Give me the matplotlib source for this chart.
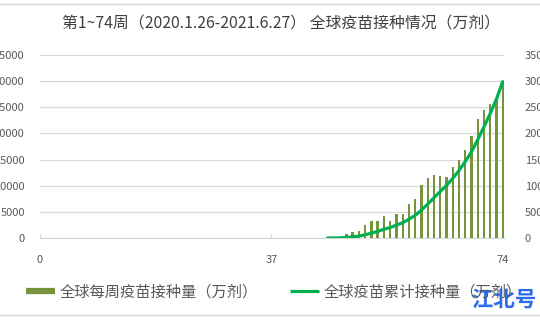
import matplotlib
matplotlib.use("Agg")
import matplotlib.pyplot as plt
from matplotlib.lines import Line2D
import matplotlib.patheffects as pe

plt.rcParams['font.family'] = ['Noto Sans CJK SC', 'DejaVu Sans']

# ---- data ----
title = "第1~74周（2020.1.26-2021.6.27） 全球疫苗接种情况（万剂）"
weeks = list(range(46, 75))
weekly = [10, 80, 250, 820, 1070, 1400, 2540, 3180, 3180, 4270, 3180, 4650, 4650,
          6560, 7460, 10140, 11400, 12050, 11920, 11670, 13500, 14980, 16890,
          19440, 22770, 24540, 25600, 26400, 29800]
cumulative = [0, 100, 300, 1200, 2200, 3600, 6200, 9400, 12500, 16800, 20000,
              24600, 29300, 35800, 43300, 53400, 64800, 76900, 88800, 100500,
              114000, 129000, 146000, 165000, 188000, 213000, 238000, 266000, 299000]
x_ticks = [0, 37, 74]
left_ticks = [0, 5000, 10000, 15000, 20000, 25000, 30000, 35000]
right_ticks = [0, 50000, 100000, 150000, 200000, 250000, 300000, 350000]
label_weekly = "全球每周疫苗接种量（万剂）"
label_cum = "全球疫苗累计接种量（万剂）"
watermark = "江北号"

bar_color = "#77933C"
line_color = "#00B050"
text_color = "#595959"
grid_color = "#D9D9D9"

W, H = 540, 320
fig = plt.figure(figsize=(W / 100, H / 100), dpi=100)
fig.patch.set_facecolor("white")

x0, x1 = 40, 504
y_top, y_bot = 55, 238
ax = fig.add_axes([x0 / W, 1 - y_bot / H, (x1 - x0) / W, (y_bot - y_top) / H])
ax2 = ax.twinx()

ax.bar(weeks, weekly, width=0.38, color=bar_color, zorder=3)
ax2.plot(weeks, cumulative, color=line_color, lw=2.3, solid_capstyle="round", zorder=4)

ax.set_xlim(0, 74.2)
ax.set_ylim(0, 35000)
ax2.set_ylim(0, 350000)
ax.set_xticks(x_ticks)
ax.set_yticks(left_ticks)
ax2.set_yticks(right_ticks)
ax.set_yticklabels([str(v) for v in left_ticks])
ax2.set_yticklabels([str(v) for v in right_ticks])

ax.grid(axis="y", color=grid_color, lw=0.9, zorder=0)
ax.set_axisbelow(True)
for a in (ax, ax2):
    for s in a.spines.values():
        s.set_visible(False)
ax.spines["bottom"].set_visible(True)
ax.spines["bottom"].set_color(grid_color)
ax.spines["bottom"].set_linewidth(0.9)

ax.tick_params(axis="x", direction="in", length=3, color=grid_color,
               labelsize=8, labelcolor=text_color, pad=12)
ax.tick_params(axis="y", length=0, labelsize=8, labelcolor=text_color, pad=11)
ax2.tick_params(axis="y", length=0, labelsize=8, labelcolor=text_color, pad=15)

fig.text(281 / W, 1 - 24 / H, title, ha="center", va="center",
         fontsize=11.4, color="#404040")

handles = [Line2D([0], [0], color=bar_color, lw=4.5, solid_capstyle="butt"),
           Line2D([0], [0], color=line_color, lw=2.3, solid_capstyle="butt")]
fig.legend(handles, [label_weekly, label_cum], loc="center",
           bbox_to_anchor=(274 / W, 1 - 292 / H), ncol=2, frameon=False,
           fontsize=11, labelcolor=text_color, handlelength=1.9,
           handletextpad=0.3, columnspacing=2.1)

fig.add_artist(Line2D([0, 1], [1 - 4 / H, 1 - 4 / H], transform=fig.transFigure,
                      color=grid_color, lw=1))
fig.add_artist(Line2D([0, 1], [1 - 315 / H, 1 - 315 / H], transform=fig.transFigure,
                      color=grid_color, lw=1))

fig.text(504 / W, 1 - 300 / H, watermark, ha="center", va="center", fontsize=15.5,
         fontweight="bold", color="#2E6BE6",
         path_effects=[pe.withStroke(linewidth=3, foreground="white")])

fig.savefig("out.png", dpi=100, facecolor="white")
